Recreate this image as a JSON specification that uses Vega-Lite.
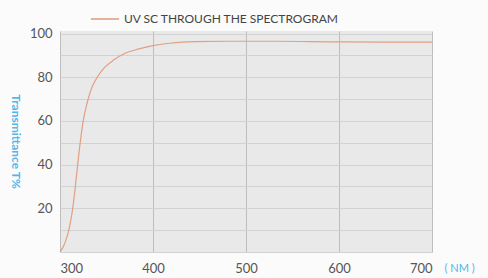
{
  "$schema": "https://vega.github.io/schema/vega-lite/v6.json",
  "autosize": "none",
  "width": 372,
  "height": 221,
  "padding": {"left": 60, "top": 31, "right": 56, "bottom": 26},
  "background": "#fbfbfb",
  "config": {
    "font": "Lato",
    "view": {"fill": "#e9e9e9", "stroke": null}
  },
  "data": {
    "values": [
      {"wl": 300, "t": 0, "s": "UV  SC THROUGH THE SPECTROGRAM"},
      {"wl": 303, "t": 2, "s": "UV  SC THROUGH THE SPECTROGRAM"},
      {"wl": 306, "t": 5, "s": "UV  SC THROUGH THE SPECTROGRAM"},
      {"wl": 310, "t": 11, "s": "UV  SC THROUGH THE SPECTROGRAM"},
      {"wl": 313, "t": 18, "s": "UV  SC THROUGH THE SPECTROGRAM"},
      {"wl": 316, "t": 28, "s": "UV  SC THROUGH THE SPECTROGRAM"},
      {"wl": 319, "t": 40, "s": "UV  SC THROUGH THE SPECTROGRAM"},
      {"wl": 322, "t": 51, "s": "UV  SC THROUGH THE SPECTROGRAM"},
      {"wl": 325, "t": 60, "s": "UV  SC THROUGH THE SPECTROGRAM"},
      {"wl": 329, "t": 68, "s": "UV  SC THROUGH THE SPECTROGRAM"},
      {"wl": 334, "t": 75, "s": "UV  SC THROUGH THE SPECTROGRAM"},
      {"wl": 340, "t": 80, "s": "UV  SC THROUGH THE SPECTROGRAM"},
      {"wl": 348, "t": 84.5, "s": "UV  SC THROUGH THE SPECTROGRAM"},
      {"wl": 358, "t": 88, "s": "UV  SC THROUGH THE SPECTROGRAM"},
      {"wl": 370, "t": 91, "s": "UV  SC THROUGH THE SPECTROGRAM"},
      {"wl": 385, "t": 93, "s": "UV  SC THROUGH THE SPECTROGRAM"},
      {"wl": 400, "t": 94.5, "s": "UV  SC THROUGH THE SPECTROGRAM"},
      {"wl": 420, "t": 95.7, "s": "UV  SC THROUGH THE SPECTROGRAM"},
      {"wl": 445, "t": 96.3, "s": "UV  SC THROUGH THE SPECTROGRAM"},
      {"wl": 480, "t": 96.5, "s": "UV  SC THROUGH THE SPECTROGRAM"},
      {"wl": 530, "t": 96.5, "s": "UV  SC THROUGH THE SPECTROGRAM"},
      {"wl": 600, "t": 96.2, "s": "UV  SC THROUGH THE SPECTROGRAM"},
      {"wl": 650, "t": 96.1, "s": "UV  SC THROUGH THE SPECTROGRAM"},
      {"wl": 700, "t": 96.1, "s": "UV  SC THROUGH THE SPECTROGRAM"}
    ]
  },
  "mark": {"type": "line", "strokeWidth": 1.2, "interpolate": "monotone"},
  "encoding": {
    "x": {
      "field": "wl", "type": "quantitative",
      "scale": {"domain": [300, 700], "nice": false},
      "axis": {
        "values": [300, 400, 500, 600, 700],
        "grid": true, "gridColor": "#bdbdbd", "gridWidth": 1,
        "domain": false, "ticks": false,
        "labelColor": "#555555", "labelFontSize": 13, "labelPadding": 10,
        "title": "( NM )", "titleColor": "#4fb8ea", "titleFontSize": 11,
        "titleFontWeight": "normal",
        "titleAlign": "left", "titleBaseline": "middle", "titleX": 384, "titleY": 16
      }
    },
    "y": {
      "field": "t", "type": "quantitative",
      "scale": {"domain": [0, 101.2], "nice": false},
      "axis": {
        "values": [0, 10, 20, 30, 40, 50, 60, 70, 80, 90, 100],
        "labelExpr": "datum.value % 20 == 0 && datum.value > 0 ? datum.label : ''",
        "grid": true, "gridColor": "#d2d2d2", "gridWidth": 1,
        "domain": false, "ticks": false,
        "labelColor": "#555555", "labelFontSize": 13, "labelPadding": 8,
        "title": "Transmittance T%", "titleColor": "#4fb8ea", "titleFontSize": 12,
        "titleFontWeight": "bold", "titleX": -45, "titleY": 110, "titleAngle": 90,
        "titleAlign": "center", "titleBaseline": "middle"
      }
    },
    "color": {
      "field": "s", "type": "nominal",
      "scale": {"range": ["#e0a084"]},
      "legend": {
        "title": null, "orient": "none", "legendX": 30, "legendY": -27,
        "symbolType": "stroke", "symbolSize": 800, "symbolStrokeWidth": 1.6,
        "labelLimit": 0, "labelOffset": 4,
        "labelColor": "#444444", "labelFontSize": 12
      }
    }
  }
}
